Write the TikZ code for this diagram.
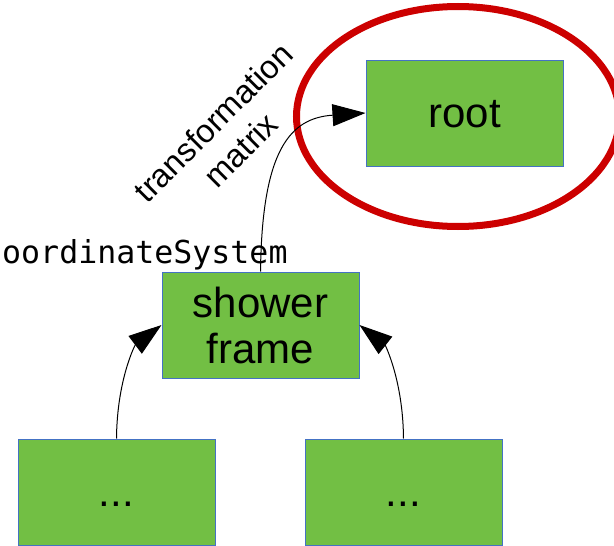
\documentclass[tikz,border=0pt]{standalone}
\usepackage{fontspec}
\setmainfont{Liberation Sans}
\newfontfamily\monofont{DejaVu Sans Mono}
\usetikzlibrary{arrows.meta}
\definecolor{boxgreen}{RGB}{114,191,68}
\definecolor{boxblue}{RGB}{68,114,196}
\definecolor{ringred}{RGB}{204,0,0}
\tikzset{
  gbox/.style={draw=boxblue, line width=1pt, fill=boxgreen, inner sep=0pt,
    minimum width=197pt, minimum height=106pt, align=center,
    font=\fontsize{42}{46}\selectfont, text height=38pt, text depth=9pt},
  conn/.style={line width=1pt, -{Triangle[length=33pt,width=22pt]}},
  ring/.style={draw=ringred, line width=7pt}
}
\begin{document}
\begin{tikzpicture}[x=1pt,y=-1pt]
\useasboundingbox (0,0) rectangle (614,546);
\draw[ring] (458,116.5) ellipse [x radius=161.5pt, y radius=110pt];
\node[gbox] (root) at (464.5,113) {root};
\node[gbox, text height=, text depth=] (shower) at (260.5,325) {shower\\frame};
\node[gbox] (leafA) at (116.5,492) {...};
\node[gbox] (leafB) at (403.5,492) {...};
\node[inner sep=0pt, anchor=base west, font=\monofont\fontsize{31.6}{36}\selectfont] (cs) at (2,263) {oordinateSystem};
\node[inner sep=0pt, rotate=45, align=center, font=\fontsize{32.6}{39}\selectfont] (tm) at (227,136) {transformation\\matrix};
\draw[conn] (shower.north) .. controls (262,150) and (290,118) .. (root.west);
\draw[conn] (leafA.north) .. controls (117,380) and (135,345) .. (shower.west);
\draw[conn] (leafB.north) .. controls (403,380) and (385,345) .. (shower.east);
\end{tikzpicture}
\end{document}
